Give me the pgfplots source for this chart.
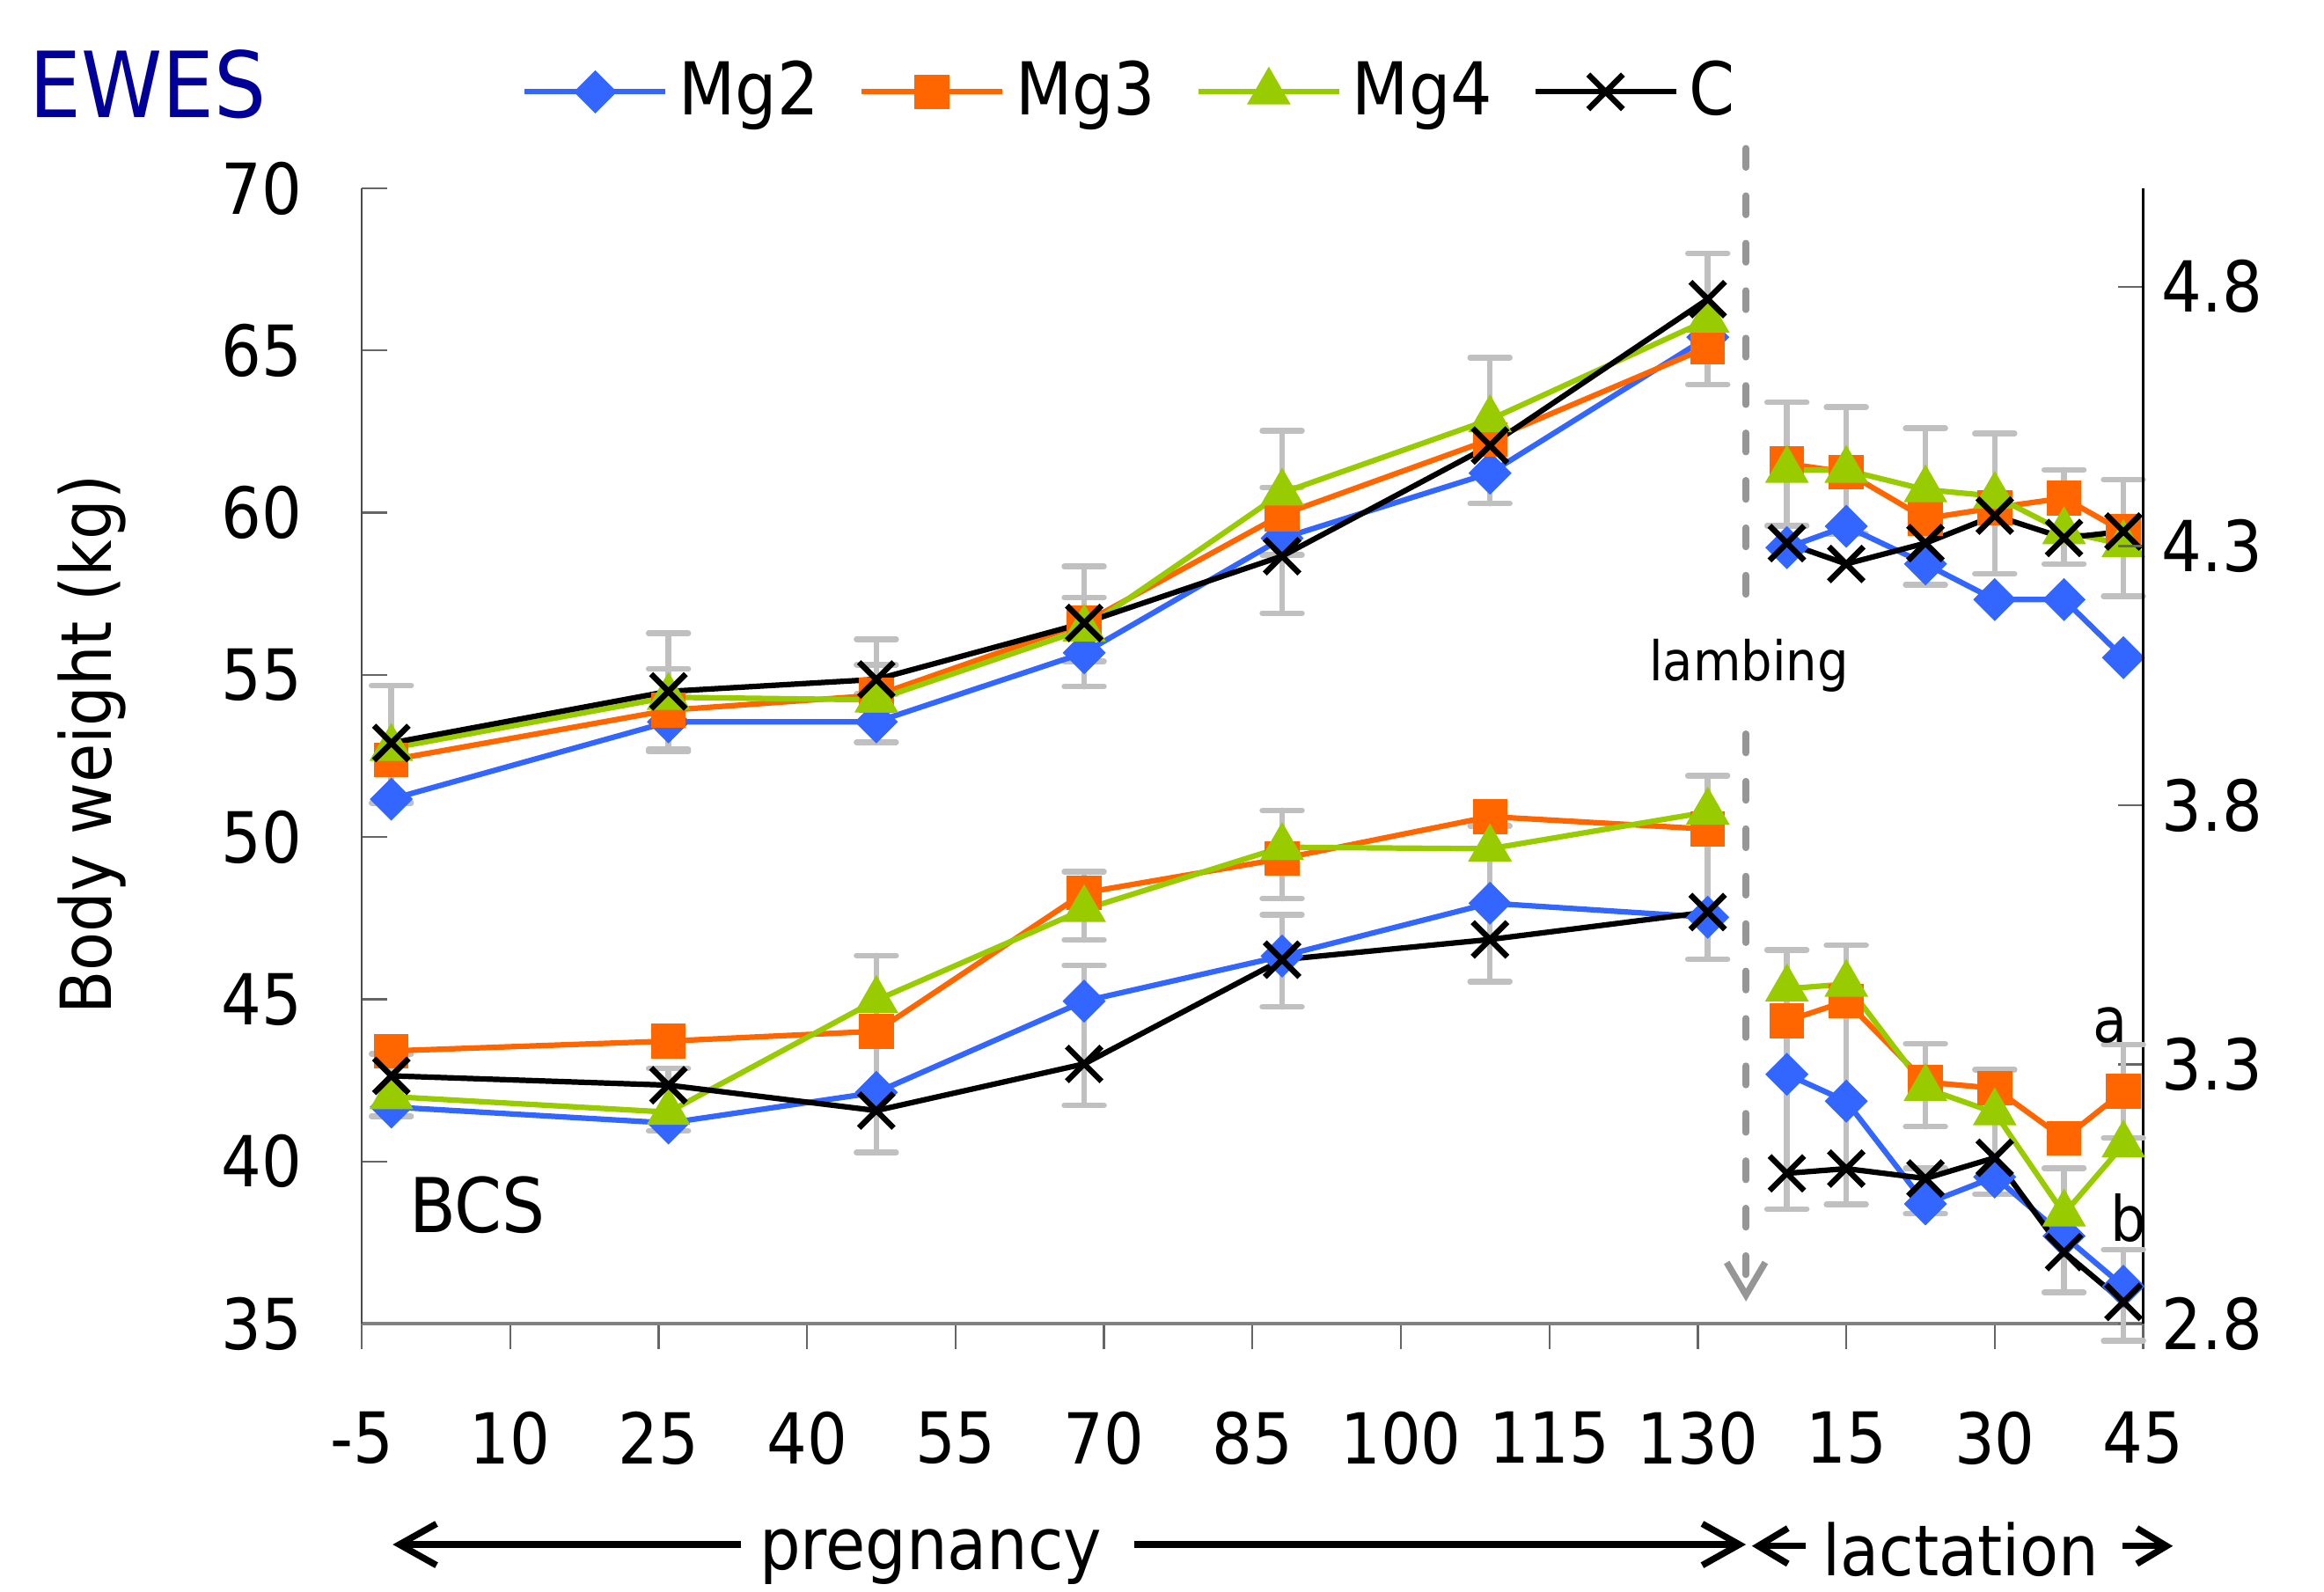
\documentclass[border=0pt]{standalone}
\usepackage{pgfplots}
\pgfplotsset{compat=1.18}
\usepackage{pgfplotstable}
\usepackage{fontspec}
\setmainfont{DejaVu Sans Condensed}
\usetikzlibrary{arrows.meta}

\definecolor{cMgtwo}{RGB}{51,102,255}
\definecolor{cMgthree}{RGB}{255,102,0}
\definecolor{cMgfour}{RGB}{153,204,0}
\definecolor{ebar}{RGB}{192,192,192}
\definecolor{lamb}{RGB}{150,150,150}
\definecolor{ewes}{RGB}{0,0,153}

% body weight (kg)
\pgfplotstableread{
x   Mg2    Mg3    Mg4    C
-2  51.17  52.38  52.74  52.90
26  53.55  53.91  54.31  54.49
47  53.55  54.37  54.23  54.86
68  55.68  56.60  56.41  56.60
88  59.21  59.94  60.61  58.66
109 61.22  62.25  62.87  62.07
131 65.41  65.10  65.94  66.58
}\bwpreg
\pgfplotstableread{
x   Mg2    Mg3    Mg4    C
139 58.92  61.51  61.31  59.06
145 59.58  61.25  61.31  58.42
153 58.42  59.82  60.71  59.06
160 57.32  60.15  60.51  59.91
167 57.32  60.45  59.42  59.22
173 55.53  59.42  59.02  59.42
}\bwlact
\pgfplotstableread{
x   y      e
-2  52.86  1.81
26  54.49  1.79
26  53.91  1.27
47  54.51  1.59
47  54.86  0.45
68  56.49  1.85
68  56.40  0.98
88  59.71  2.81
88  59.74  1.04
109 62.53  2.25
131 65.97  2.02
139 61.50  1.90
145 61.30  1.95
153 60.19  2.41
160 60.28  2.16
167 59.87  1.45
173 59.22  1.80
}\bwerr

% body condition score
\pgfplotstableread{
x   Mg2    Mg3    Mg4    C
-2  3.218  3.326  3.238  3.278
26  3.187  3.345  3.208  3.260
47  3.246  3.364  3.424  3.211
68  3.422  3.631  3.599  3.301
88  3.509  3.697  3.719  3.502
109 3.611  3.778  3.716  3.541
131 3.584  3.754  3.787  3.594
}\bcspreg
\pgfplotstableread{
x   Mg2    Mg3    Mg4    C
139 3.281  3.384  3.446  3.090
145 3.229  3.422  3.455  3.099
153 3.031  3.266  3.254  3.080
160 3.083  3.254  3.207  3.120
167 2.969  3.157  3.012  2.938
173 2.872  3.248  3.145  2.842
}\bcslact
\pgfplotstableread{
x   y      e
-2  3.260  0.060
26  3.232  0.060
47  3.320  0.190
68  3.606  0.066
68  3.356  0.135
88  3.705  0.085
88  3.500  0.089
109 3.610  0.150
131 3.680  0.177
139 3.271  0.250
145 3.280  0.250
153 3.260  0.080
153 3.056  0.044
160 3.170  0.120
167 2.980  0.120
173 3.248  0.090
173 2.855  0.088
}\bcserr

\pgfplotsset{
  mgtwo/.style={color=cMgtwo, line width=1.05pt, mark=square*, mark size=2.4pt, mark options={rotate=45}},
  mgthree/.style={color=cMgthree, line width=1.05pt, mark=square*, mark size=2.8pt},
  mgfour/.style={color=cMgfour, line width=1.05pt, mark=triangle*, mark size=3.8pt},
  ctrl/.style={color=black, line width=1.05pt, mark=x, mark size=4.7pt, mark options={line width=1.1pt}},
  ebars/.style={forget plot, draw=none, mark=none, error bars/.cd, y dir=both, y explicit,
    error bar style={draw=ebar, line width=1.1pt, line cap=round},
    error mark options={rotate=90, draw=ebar, line width=1.1pt, mark size=3.8pt, line cap=round}},
  common/.style={
    at={(0,0)}, anchor=south west,
    width=12.02cm, height=7.66cm, scale only axis, clip=false,
    xmin=-5, xmax=175,
    tick align=inside, major tick length=0.17cm,
    tick style={draw=black!60, line width=0.4pt},
    tick label style={font=\fontsize{13.5}{16}\selectfont},
    /pgf/number format/assume math mode=true,
  },
}

\begin{document}
\begin{tikzpicture}
\useasboundingbox (-2.44,-1.81) rectangle (13.24,8.93);

\begin{axis}[
  common,
  ymin=35, ymax=70,
  xtick={-5,10,...,175},
  xticklabels={-5,10,25,40,55,70,85,100,115,130,15,30,45},
  ytick={35,40,...,70},
  axis x line*=bottom, axis y line*=left,
  axis line style={-},
  x axis line style={draw=black!50, line width=0.8pt},
  y axis line style={draw=black!70, line width=0.4pt},
  xtick style={yshift=-0.17cm},
  xticklabel style={yshift=-0.47cm},
  yticklabel style={xshift=-0.28cm},
  ylabel={Body weight (kg)},
  ylabel style={at={(axis description cs:-0.1514,0.51)}, anchor=center, font=\fontsize{13.5}{16}\selectfont},
  legend columns=-1,
  legend style={draw=none, fill=none, at={(rel axis cs:0.4334,1.0849)}, anchor=center,
    font=\fontsize{14}{16}\selectfont, /tikz/every even column/.append style={column sep=0.2cm}},
  legend image code/.code={\draw[mark repeat=2,mark phase=2,#1] plot coordinates {(0cm,0cm) (0.475cm,0cm) (0.95cm,0cm)};},
]
\addplot[ebars] table[x=x, y=y, y error=e] {\bwerr};
\addplot[mgtwo]   table[x=x, y=Mg2] {\bwpreg};
\addplot[mgthree] table[x=x, y=Mg3] {\bwpreg};
\addplot[mgfour]  table[x=x, y=Mg4] {\bwpreg};
\addplot[ctrl]    table[x=x, y=C]   {\bwpreg};
\addplot[mgtwo, forget plot]   table[x=x, y=Mg2] {\bwlact};
\addplot[mgthree, forget plot] table[x=x, y=Mg3] {\bwlact};
\addplot[mgfour, forget plot]  table[x=x, y=Mg4] {\bwlact};
\addplot[ctrl, forget plot]    table[x=x, y=C]   {\bwlact};
\legend{Mg2,Mg3,Mg4,C}
\end{axis}

\begin{axis}[
  common,
  ymin=2.8, ymax=4.99,
  axis x line=none, axis y line*=right,
  axis line style={-, draw=black, line width=0.4pt},
  ytick={2.8,3.3,3.8,4.3,4.8},
  yticklabel style={/pgf/number format/fixed, /pgf/number format/precision=1, /pgf/number format/fixed zerofill},
]
\addplot[ebars] table[x=x, y=y, y error=e] {\bcserr};
\addplot[mgtwo]   table[x=x, y=Mg2] {\bcspreg};
\addplot[mgthree] table[x=x, y=Mg3] {\bcspreg};
\addplot[mgfour]  table[x=x, y=Mg4] {\bcspreg};
\addplot[ctrl]    table[x=x, y=C]   {\bcspreg};
\addplot[mgtwo]   table[x=x, y=Mg2] {\bcslact};
\addplot[mgthree] table[x=x, y=Mg3] {\bcslact};
\addplot[mgfour]  table[x=x, y=Mg4] {\bcslact};
\addplot[ctrl]    table[x=x, y=C]   {\bcslact};
\end{axis}

% annotations
\node[font=\fontsize{17.5}{20}\selectfont, text=ewes] at (-1.44,8.36) {EWES};
\node[font=\fontsize{14.5}{17}\selectfont] at (0.78,0.80) {BCS};
\node[font=\fontsize{12}{14}\selectfont] at (11.80,2.01) {a};
\node[font=\fontsize{12}{14}\selectfont] at (11.92,0.71) {b};
\node[font=\fontsize{10.5}{12}\selectfont] at (9.36,4.44) {lambing};
\draw[lamb, line width=1.25pt, line cap=round, dash pattern=on 0.13cm off 0.19cm] (9.34,7.93) -- (9.34,4.80);
\draw[lamb, line width=1.25pt, line cap=round, dash pattern=on 0.13cm off 0.19cm,
  -{Straight Barb[length=0.22cm,width=0.26cm]}] (9.34,3.98) -- (9.34,0.15);

\draw[line width=1.25pt, -{Straight Barb[length=0.25cm,width=0.28cm]}] (2.56,-1.49) -- (0.21,-1.49);
\draw[line width=1.25pt, -{Straight Barb[length=0.25cm,width=0.28cm]}] (5.21,-1.49) -- (9.34,-1.49);
\node[font=\fontsize{13.8}{16}\selectfont, anchor=base] at (3.84,-1.66) {pregnancy};
\draw[line width=1.25pt, -{Straight Barb[length=0.2cm,width=0.24cm]}] (9.74,-1.50) -- (9.38,-1.50);
\node[font=\fontsize{13.5}{16}\selectfont, anchor=base] at (10.79,-1.70) {lactation};
\draw[line width=1.25pt, -{Straight Barb[length=0.2cm,width=0.24cm]}] (11.88,-1.50) -- (12.22,-1.50);
\end{tikzpicture}
\end{document}
